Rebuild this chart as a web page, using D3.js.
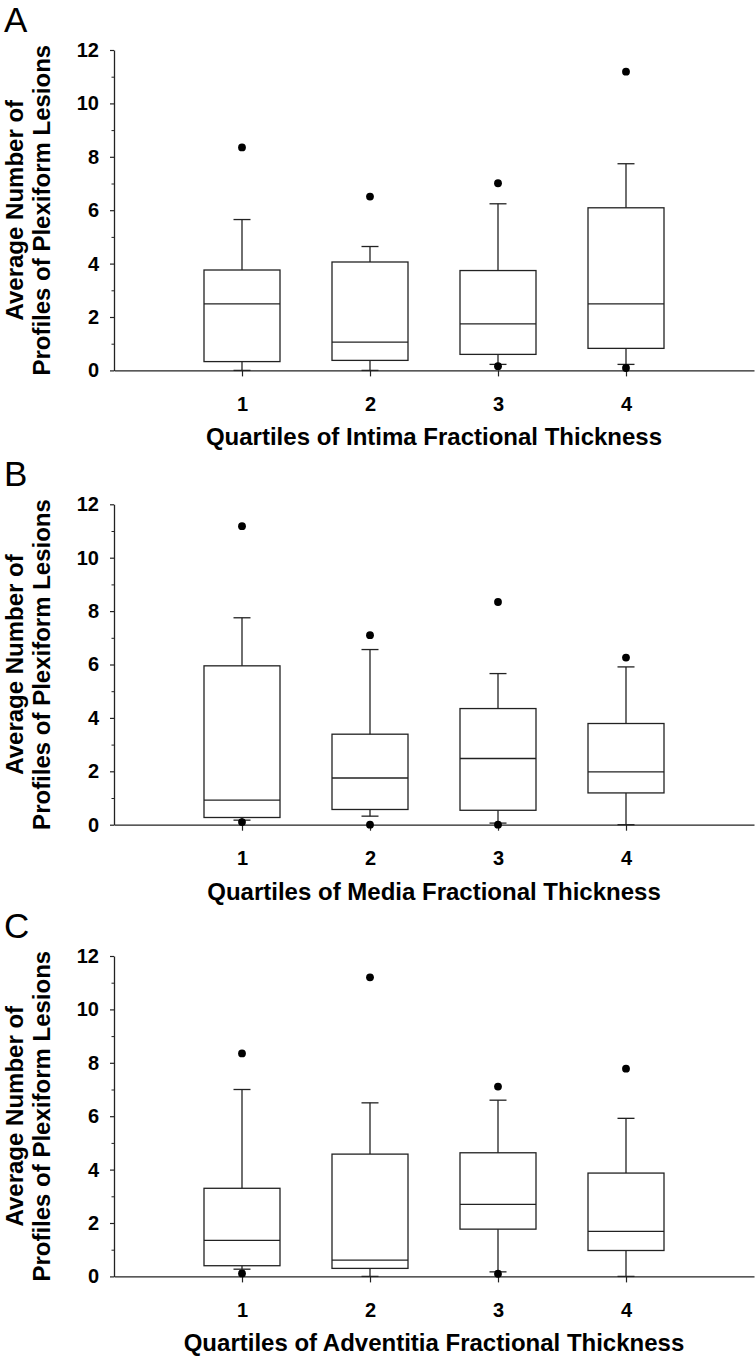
<!DOCTYPE html>
<html>
<head>
<meta charset="utf-8">
<script src="https://cdn.jsdelivr.net/npm/d3@7"></script>
<style>
  html, body { margin: 0; padding: 0; background: #fff; }
  svg { display: block; }
  text { font-family: "Liberation Sans", Arial, sans-serif; fill: #000; }
</style>
</head>
<body>
<script>
// ---- data ----
const groups = [1, 2, 3, 4];
const yTicks = [0, 2, 4, 6, 8, 10, 12];
const yMinorTicks = [1, 3, 5, 7, 9, 11];
const panelLabels = ["A", "B", "C"];
const xTitles = [
  "Quartiles of Intima Fractional Thickness",
  "Quartiles of Media Fractional Thickness",
  "Quartiles of Adventitia Fractional Thickness"
];
const yTitleLines = ["Average Number of", "Profiles of Plexiform Lesions"];

// Panel A
const aWhiskerLow  = [0, 0, 0.225, 0.225];
const aQ1          = [0.33, 0.375, 0.6, 0.825];
const aMedian      = [2.49, 1.06, 1.74, 2.49];
const aQ3          = [3.76, 4.06, 3.74, 6.09];
const aWhiskerHigh = [5.65, 4.64, 6.24, 7.74];
const aOutliers    = [[8.35], [6.51], [7.01, 0.16], [11.19, 0.09]];

// Panel B
const bWhiskerLow  = [0.17, 0.32, 0.06, 0];
const bQ1          = [0.27, 0.57, 0.54, 1.19];
const bMedian      = [0.92, 1.75, 2.48, 1.98];
const bQ3          = [5.95, 3.39, 4.35, 3.79];
const bWhiskerHigh = [7.75, 6.56, 5.66, 5.91];
const bOutliers    = [[11.18, 0.1], [7.1, 0], [8.34, 0], [6.26]];

// Panel C
const cWhiskerLow  = [0.27, 0, 0.17, 0];
const cQ1          = [0.4, 0.3, 1.77, 0.97];
const cMedian      = [1.35, 0.61, 2.7, 1.69];
const cQ3          = [3.3, 4.58, 4.63, 3.87];
const cWhiskerHigh = [7.0, 6.5, 6.6, 5.92];
const cOutliers    = [[8.35, 0.11], [11.2], [7.11, 0.1], [7.78]];

const panels = [
  { lo: aWhiskerLow, q1: aQ1, med: aMedian, q3: aQ3, hi: aWhiskerHigh, out: aOutliers },
  { lo: bWhiskerLow, q1: bQ1, med: bMedian, q3: bQ3, hi: bWhiskerHigh, out: bOutliers },
  { lo: cWhiskerLow, q1: cQ1, med: cMedian, q3: cQ3, hi: cWhiskerHigh, out: cOutliers }
];

// ---- layout ----
const W = 756, H = 1357;
const plotTops = [50, 504.3, 956];
const plotH = 320.4;
const axisLeftX = 114, axisRightX = 754;
const lineColor = "#222";

const svg = d3.select("body").append("svg").attr("width", W).attr("height", H);

const x = d3.scaleLinear().domain([0, 5]).range([axisLeftX, axisRightX]);
const boxHalf = 38, capHalf = 8.5;

panels.forEach((p, i) => {
  const top = plotTops[i];
  const y = d3.scaleLinear().domain([0, 12]).range([top + plotH, top]);
  const g = svg.append("g");

  // panel label
  svg.append("text").attr("x", 4).attr("y", top - 18)
    .attr("font-size", 35).text(panelLabels[i]);

  // y axis
  const yAxis = g.append("g").attr("transform", `translate(${axisLeftX},0)`)
    .call(d3.axisLeft(y).tickValues(yTicks).tickSize(4).tickSizeOuter(0).tickPadding(11).tickFormat(d3.format("d")));
  yAxis.select(".domain").attr("stroke", lineColor).attr("stroke-width", 1.3);
  yAxis.selectAll(".tick line").attr("stroke", lineColor).attr("stroke-width", 1.2);
  yAxis.selectAll(".tick text").attr("font-size", 20).attr("font-weight", "bold")
    .attr("font-family", "'Liberation Sans', Arial, sans-serif").attr("fill", "#000");
  const yMinor = g.append("g").attr("transform", `translate(${axisLeftX},0)`)
    .call(d3.axisLeft(y).tickValues(yMinorTicks).tickSize(2.5).tickSizeOuter(0).tickFormat(""));
  yMinor.select(".domain").remove();
  yMinor.selectAll(".tick line").attr("stroke", lineColor).attr("stroke-width", 1);

  // x axis
  const xAxis = g.append("g").attr("transform", `translate(0,${y(0)})`)
    .call(d3.axisBottom(x).tickValues(groups).tickSize(6).tickSizeOuter(0).tickPadding(20).tickFormat(d3.format("d")));
  xAxis.select(".domain").attr("stroke", lineColor).attr("stroke-width", 1.3);
  xAxis.selectAll(".tick line").attr("stroke", lineColor).attr("stroke-width", 1.2);
  xAxis.selectAll(".tick text").attr("font-size", 20).attr("font-weight", "bold")
    .attr("font-family", "'Liberation Sans', Arial, sans-serif").attr("fill", "#000");

  // x title
  svg.append("text").attr("x", (axisLeftX + axisRightX) / 2).attr("y", y(0) + 75)
    .attr("text-anchor", "middle").attr("font-size", 24).attr("font-weight", "bold")
    .text(xTitles[i]);

  // y title
  const cy = top + plotH / 2;
  [23, 50].forEach((bx, k) => {
    svg.append("text").attr("transform", `translate(${bx},${cy}) rotate(-90)`)
      .attr("text-anchor", "middle").attr("font-size", 24).attr("font-weight", "bold")
      .text(yTitleLines[k]);
  });

  // boxes
  groups.forEach((gv, j) => {
    const cx = x(gv);
    const bg = g.append("g").attr("stroke", lineColor).attr("stroke-width", 1.3).attr("fill", "none");
    // whiskers
    bg.append("line").attr("x1", cx).attr("x2", cx).attr("y1", y(p.q3[j])).attr("y2", y(p.hi[j]));
    bg.append("line").attr("x1", cx - capHalf).attr("x2", cx + capHalf).attr("y1", y(p.hi[j])).attr("y2", y(p.hi[j]));
    bg.append("line").attr("x1", cx).attr("x2", cx).attr("y1", y(p.q1[j])).attr("y2", y(p.lo[j]));
    bg.append("line").attr("x1", cx - capHalf).attr("x2", cx + capHalf).attr("y1", y(p.lo[j])).attr("y2", y(p.lo[j]));
    // box
    bg.append("rect").attr("x", cx - boxHalf).attr("width", boxHalf * 2)
      .attr("y", y(p.q3[j])).attr("height", y(p.q1[j]) - y(p.q3[j]));
    bg.append("line").attr("x1", cx - boxHalf).attr("x2", cx + boxHalf)
      .attr("y1", y(p.med[j])).attr("y2", y(p.med[j]));
    // outliers
    p.out[j].forEach(v => {
      g.append("circle").attr("cx", cx).attr("cy", y(v)).attr("r", 3.9).attr("fill", "#000");
    });
  });
});
</script>
</body>
</html>
